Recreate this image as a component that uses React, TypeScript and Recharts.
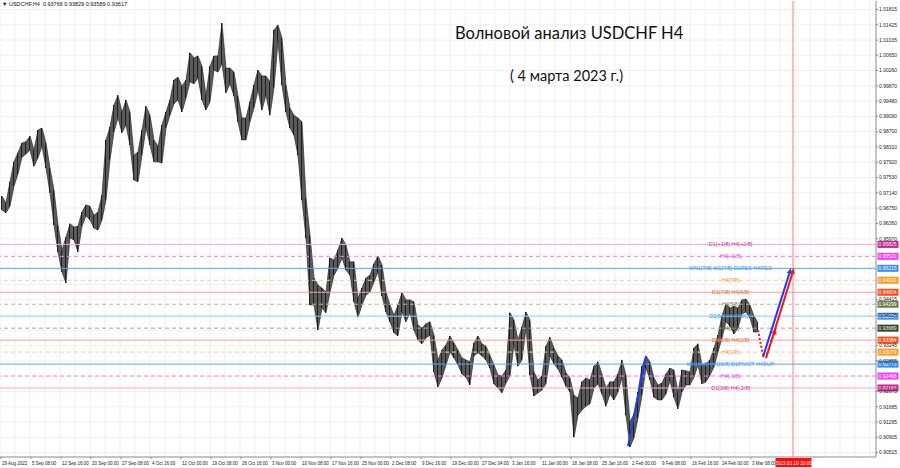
import React from 'react'
import { ComposedChart, Area, Bar, XAxis, YAxis, CartesianGrid, ReferenceLine } from 'recharts'

// H4 bars, grouped ~4 per column (high / low)
const HIGHS = [
  0.9706, 0.9688, 0.9742, 0.9793, 0.9816, 0.9841, 0.9844, 0.9859, 0.9823, 0.9874,
  0.9879, 0.9841, 0.9777, 0.9721, 0.9632, 0.9568, 0.9601, 0.9635, 0.9627, 0.9629,
  0.9665, 0.9683, 0.9680, 0.9657, 0.9665, 0.9708, 0.9849, 0.9882, 0.9938, 0.9963,
  0.9920, 0.9951, 0.9920, 0.9810, 0.9818, 0.9874, 0.9935, 0.9912, 0.9849, 0.9833,
  0.9887, 0.9920, 0.9951, 1.0002, 1.0009, 0.9986, 1.0002, 1.0071, 1.0058, 1.0063,
  1.0037, 0.9963, 1.0037, 1.0063, 1.0063, 1.0147, 1.0032, 1.0032, 1.0022, 0.9961,
  0.9905, 0.9905, 0.9946, 0.9989, 1.0027, 1.0012, 1.0012, 0.9997, 1.0129, 1.0142,
  1.0109, 0.9989, 0.9930, 0.9912, 0.9905, 0.9895, 0.9701, 0.9606, 0.9497, 0.9479,
  0.9471, 0.9461, 0.9548, 0.9543, 0.9568, 0.9599, 0.9581, 0.9538, 0.9538, 0.9446,
  0.9471, 0.9497, 0.9504, 0.9533, 0.9553, 0.9530, 0.9461, 0.9428, 0.9402, 0.9428,
  0.9459, 0.9441, 0.9441, 0.9436, 0.9377, 0.9369, 0.9380, 0.9385, 0.9351, 0.9288,
  0.9313, 0.9326, 0.9349, 0.9331, 0.9313, 0.9293, 0.9288, 0.9283, 0.9331, 0.9349,
  0.9329, 0.9323, 0.9300, 0.9275, 0.9249, 0.9247, 0.9262, 0.9408, 0.9390, 0.9339,
  0.9372, 0.9410, 0.9390, 0.9257, 0.9237, 0.9247, 0.9323, 0.9346, 0.9318, 0.9298,
  0.9288, 0.9255, 0.9242, 0.9198, 0.9191, 0.9232, 0.9242, 0.9237, 0.9272, 0.9283,
  0.9252, 0.9216, 0.9232, 0.9232, 0.9252, 0.9288, 0.9249, 0.9130, 0.9150, 0.9206,
  0.9272, 0.9298, 0.9283, 0.9242, 0.9224, 0.9229, 0.9252, 0.9267, 0.9262, 0.9206,
  0.9262, 0.9260, 0.9257, 0.9318, 0.9329, 0.9275, 0.9278, 0.9288, 0.9318, 0.9351,
  0.9400, 0.9431, 0.9420, 0.9425, 0.9420, 0.9441, 0.9443, 0.9428, 0.9400, 0.9383,
]
const LOWS = [
  0.9670, 0.9663, 0.9680, 0.9731, 0.9762, 0.9805, 0.9813, 0.9823, 0.9782, 0.9803,
  0.9833, 0.9777, 0.9714, 0.9632, 0.9563, 0.9512, 0.9484, 0.9599, 0.9594, 0.9563,
  0.9629, 0.9655, 0.9645, 0.9624, 0.9619, 0.9645, 0.9696, 0.9798, 0.9869, 0.9905,
  0.9867, 0.9887, 0.9836, 0.9747, 0.9742, 0.9810, 0.9879, 0.9836, 0.9793, 0.9793,
  0.9790, 0.9879, 0.9912, 0.9941, 0.9951, 0.9920, 0.9956, 0.9997, 0.9992, 1.0007,
  0.9951, 0.9925, 0.9946, 1.0027, 1.0022, 1.0043, 0.9969, 0.9992, 0.9961, 0.9895,
  0.9849, 0.9849, 0.9895, 0.9930, 0.9976, 0.9925, 0.9963, 0.9912, 0.9981, 1.0099,
  0.9989, 0.9920, 0.9879, 0.9861, 0.9810, 0.9696, 0.9599, 0.9428, 0.9428, 0.9364,
  0.9420, 0.9408, 0.9461, 0.9504, 0.9522, 0.9548, 0.9517, 0.9504, 0.9436, 0.9397,
  0.9428, 0.9453, 0.9461, 0.9487, 0.9512, 0.9451, 0.9410, 0.9385, 0.9357, 0.9349,
  0.9410, 0.9385, 0.9408, 0.9364, 0.9339, 0.9329, 0.9344, 0.9351, 0.9257, 0.9219,
  0.9242, 0.9275, 0.9308, 0.9293, 0.9275, 0.9252, 0.9244, 0.9224, 0.9298, 0.9306,
  0.9298, 0.9288, 0.9267, 0.9227, 0.9216, 0.9204, 0.9229, 0.9247, 0.9326, 0.9272,
  0.9288, 0.9369, 0.9249, 0.9196, 0.9204, 0.9211, 0.9227, 0.9298, 0.9278, 0.9265,
  0.9244, 0.9221, 0.9206, 0.9091, 0.9147, 0.9160, 0.9170, 0.9176, 0.9216, 0.9227,
  0.9201, 0.9170, 0.9201, 0.9186, 0.9206, 0.9242, 0.9147, 0.9066, 0.9089, 0.9140,
  0.9198, 0.9267, 0.9237, 0.9193, 0.9186, 0.9186, 0.9201, 0.9234, 0.9193, 0.9163,
  0.9206, 0.9224, 0.9224, 0.9244, 0.9275, 0.9227, 0.9232, 0.9249, 0.9270, 0.9308,
  0.9344, 0.9385, 0.9374, 0.9354, 0.9369, 0.9405, 0.9410, 0.9395, 0.9359, 0.9359,
]

// price scale labels (those hidden behind level boxes left out)
const PRICE_TICKS = [
  1.01815, 1.01425, 1.01035, 1.0065, 1.0026, 0.9987, 0.9948, 0.9909, 0.987, 0.9831,
  0.9792, 0.9753, 0.9714, 0.9675, 0.9636, 0.9597, 0.94415, 0.94025, 0.93245, 0.92855,
  0.92075, 0.91685, 0.91295, 0.90905, 0.90515,
]
// grid rows keep every step of the price scale
const GRID_PRICES = [
  1.01815, 1.01425, 1.01035, 1.0065, 1.0026, 0.9987, 0.9948, 0.9909, 0.987, 0.9831,
  0.9792, 0.9753, 0.9714, 0.9675, 0.9636, 0.9597, 0.9558, 0.9519, 0.94805, 0.94415,
  0.94025, 0.93635, 0.93245, 0.92855, 0.92465, 0.92075, 0.91685, 0.91295, 0.90905, 0.90515,
]

const DATE_LABELS = [
  '29 Aug 2022', '5 Sep 08:00', '12 Sep 16:00', '20 Sep 00:00', '27 Sep 08:00', '4 Oct 16:00',
  '12 Oct 00:00', '19 Oct 08:00', '26 Oct 16:00', '3 Nov 00:00', '10 Nov 08:00', '17 Nov 16:00',
  '25 Nov 00:00', '2 Dec 08:00', '9 Dec 16:00', '19 Dec 00:00', '27 Dec 04:00', '3 Jan 16:00',
  '11 Jan 00:00', '18 Jan 08:00', '25 Jan 16:00', '2 Feb 00:00', '9 Feb 08:00', '16 Feb 16:00',
  '24 Feb 00:00', '3 Mar 08:00',
]

// Murrey-style levels
const LEVELS = [
  0.95825, 0.9552, 0.95215, 0.9491, 0.94604, 0.94299, 0.93994, 0.93689, 0.93384, 0.93079,
  0.92773, 0.92468, 0.92163,
]
const LEVEL_NAMES = [
  'D1[+1/8] H4[+2/8]', 'H4[+1/8]', 'MN1[7/8] W1[7/8] D1RES H4RES', 'H4[7/8]', 'D1[7/8] H4[6/8]',
  'H4[5/8]', 'D1[6/8] H4PIVOT', 'H4[3/8]', 'D1[5/8] H4[2/8]', 'H4[1/8]',
  'MN1[6/8] W1[6/8] D1PIVOT H4SUP', 'H4[-1/8]', 'D1[3/8] H4[-2/8]',
]
const LEVEL_STYLE = [
  { line: '#f0a6d6', dash: '', box: '#c8238a', text: '#c8329a' },
  { line: '#f27ef2', dash: '4 3', box: '#f53cf0', text: '#e040e0' },
  { line: '#5ea6f2', dash: '', box: '#3a8ff0', text: '#3a94f0' },
  { line: '#fcc995', dash: '4 3', box: '#ff9a1a', text: '#f59a30' },
  { line: '#f7a08a', dash: '', box: '#ff4a14', text: '#f26436' },
  { line: '#b9b998', dash: '4 3', box: '#6a7a48', text: '#7f8f55' },
  { line: '#9cc8f7', dash: '', box: '#3a94f0', text: '#3a94f0' },
  { line: '#a8a890', dash: '4 3', box: '#33421a', text: '#56663a' },
  { line: '#f7a08a', dash: '', box: '#ff4a14', text: '#f26436' },
  { line: '#fcc995', dash: '4 3', box: '#ff9a1a', text: '#f59a30' },
  { line: '#5ea6f2', dash: '', box: '#2d88ee', text: '#3a94f0' },
  { line: '#f27ef2', dash: '4 3', box: '#f53cf0', text: '#e040e0' },
  { line: '#f0a6d6', dash: '', box: '#c8238a', text: '#c8329a' },
]

// wave annotations (bar position, price)
const IMPULSE = [{ t: 157, p: 0.9068 }, { t: 161.5, p: 0.9298 }]
const FORECAST_BLUE = [{ t: 190.75, p: 0.9295 }, { t: 197.75, p: 0.9522 }]
const FORECAST_RED = [{ t: 191.5, p: 0.9292 }, { t: 198.5, p: 0.9522 }]
const DIP_DOWN = [{ t: 189.5, p: 0.9364 }, { t: 190.75, p: 0.93 }]
const DIP_UP = [{ t: 191.75, p: 0.9303 }, { t: 194, p: 0.9369 }]
const TODAY_T = 198.25

const candles = HIGHS.map((hi, i) => ({ t: i + 0.5, hi, lo: LOWS[i] }))
const dateTicks = DATE_LABELS.map((_, k) => 0.25 + k * 7.5)
const gridX = Array.from({ length: 59 }, (_, k) => k * 3.75)

const FONT = 'Liberation Sans, Arial, sans-serif'

const PriceTick = ({ x, y, payload }: any) => (
  <text x={x} y={y + 1.8} fontSize={5} fontFamily={FONT} fill="#222" textAnchor="start">
    {Number(payload.value).toFixed(5)}
  </text>
)

const DateTick = ({ x, y, payload }: any) => {
  const k = Math.round((payload.value - 0.25) / 7.5)
  return (
    <text x={x + 1} y={y + 4} fontSize={4.5} fontFamily={FONT} fill="#222" textAnchor="start">
      {DATE_LABELS[k]}
    </text>
  )
}

const arrowShape = (color: string, width: number, dash: string, head: boolean) => (props: any) => {
  const { x1, y1, x2, y2 } = props
  const a = Math.atan2(y2 - y1, x2 - x1)
  const L = 6
  const W = 2.6
  const bx = x2 - L * Math.cos(a)
  const by = y2 - L * Math.sin(a)
  const pts = `${x2},${y2} ${bx + W * Math.sin(a)},${by - W * Math.cos(a)} ${bx - W * Math.sin(a)},${by + W * Math.cos(a)}`
  return (
    <g>
      <line x1={x1} y1={y1} x2={head ? bx : x2} y2={head ? by : y2} stroke={color} strokeWidth={width} strokeDasharray={dash || undefined} />
      {head && <polygon points={pts} fill={color} />}
    </g>
  )
}

const seg = (pts: { t: number; p: number }[]) => pts.map((d) => ({ x: d.t, y: d.p }))

export default function App() {
  return (
    <div style={{ position: 'fixed', left: 0, top: 0, width: 900, height: 468, background: '#fff', overflow: 'hidden' }}>
      <ComposedChart width={900} height={468} data={candles} margin={{ top: 1, right: 0, left: 0, bottom: 0 }}>
        <CartesianGrid stroke="#ebebf0" strokeWidth={0.8} verticalValues={gridX} horizontalValues={GRID_PRICES} />
        <XAxis
          dataKey="t"
          type="number"
          domain={[0, 219]}
          ticks={dateTicks}
          interval={0}
          height={11}
          tick={<DateTick />}
          tickSize={2}
          axisLine={{ stroke: '#8a8a8a' }}
          tickLine={{ stroke: '#8a8a8a' }}
          allowDataOverflow
        />
        <YAxis
          orientation="right"
          type="number"
          domain={[0.904035, 1.020315]}
          ticks={PRICE_TICKS}
          interval={0}
          width={24}
          tick={<PriceTick />}
          tickSize={2}
          tickMargin={1}
          axisLine={{ stroke: '#8a8a8a' }}
          tickLine={{ stroke: '#8a8a8a' }}
          allowDataOverflow
        />
        {LEVELS.map((lv, i) => {
          const st = LEVEL_STYLE[i]
          return (
            <ReferenceLine
              key={lv}
              y={lv}
              stroke={st.line}
              strokeWidth={1}
              strokeDasharray={st.dash || undefined}
              label={(p: any) => {
                const vb = p.viewBox
                const cy = vb.y
                return (
                  <g>
                    <text x={vb.x + vb.width * 0.834} y={cy + 2} textAnchor="middle" fontSize={5.5} fontFamily={FONT} fill={st.text}>
                      {LEVEL_NAMES[i]}
                    </text>
                    <rect x={vb.x + vb.width + 1.5} y={cy - 3.5} width={21} height={7} fill={st.box} />
                    <text x={vb.x + vb.width + 2.5} y={cy + 1.8} fontSize={5} fontFamily={FONT} fill="#fff">
                      {lv.toFixed(5)}
                    </text>
                  </g>
                )
              }}
            />
          )
        })}
        <ReferenceLine
          x={TODAY_T}
          stroke="#ff5a5a"
          strokeWidth={0.8}
          label={(p: any) => {
            const vb = p.viewBox
            return (
              <g>
                <rect x={vb.x - 17.5} y={vb.y + vb.height + 1} width={36} height={9} fill="#ff0a0a" />
                <text x={vb.x + 0.5} y={vb.y + vb.height + 7.5} textAnchor="middle" fontSize={4.8} fontFamily={FONT} fill="#fff">
                  2023.03.10 20:00
                </text>
              </g>
            )
          }}
        />
        <Area
          dataKey={(d: any) => [d.lo, d.hi]}
          type="linear"
          stroke="#2f2f2f"
          strokeWidth={0.7}
          fill="#5a5a5a"
          fillOpacity={1}
          dot={false}
          activeDot={false}
          isAnimationActive={false}
        />
        <Bar dataKey={(d: any) => [d.lo, d.hi]} barSize={1} fill="#1e1e1e" isAnimationActive={false} />
        <ReferenceLine segment={seg(IMPULSE)} shape={arrowShape('#1f3df0', 2, '', false)} ifOverflow="visible" />
        <ReferenceLine segment={seg(FORECAST_BLUE)} shape={arrowShape('#1f3df0', 2, '', true)} ifOverflow="visible" />
        <ReferenceLine segment={seg(FORECAST_RED)} shape={arrowShape('#f01818', 2, '', true)} ifOverflow="visible" />
        <ReferenceLine segment={seg(DIP_DOWN)} shape={arrowShape('#f01818', 2, '2 2', false)} ifOverflow="visible" />
        <ReferenceLine segment={seg(DIP_UP)} shape={arrowShape('#f01818', 2, '2 2', true)} ifOverflow="visible" />
      </ComposedChart>
      <div style={{ position: 'absolute', left: 2, top: 1, fontFamily: FONT, fontSize: 5.5, color: '#111', whiteSpace: 'pre' }}>
        {'▼ USDCHF,H4  0.93766 0.93829 0.93589 0.93617'}
      </div>
      <div style={{ position: 'absolute', left: 455, top: 23, fontFamily: 'Lato, sans-serif', fontSize: 16.5, color: '#111', whiteSpace: 'nowrap' }}>
        Волновой анализ USDCHF H4
      </div>
      <div style={{ position: 'absolute', left: 510, top: 67, fontFamily: 'Lato, sans-serif', fontSize: 14.5, color: '#111', whiteSpace: 'nowrap' }}>
        ( 4 марта 2023 г.)
      </div>
    </div>
  )
}
